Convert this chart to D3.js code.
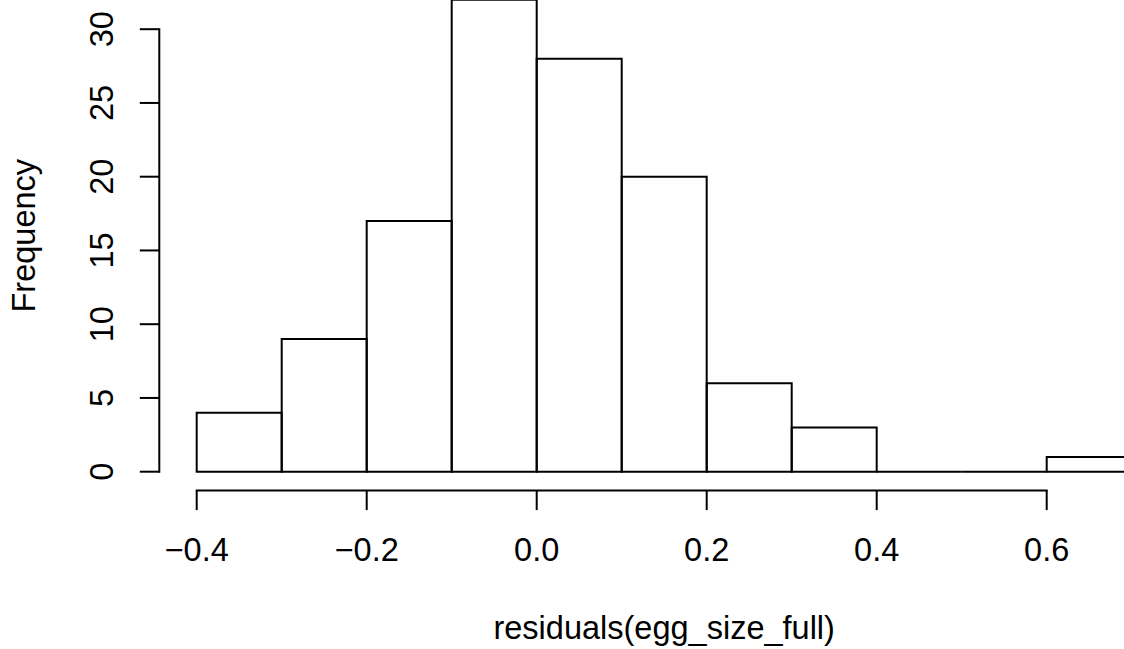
<!DOCTYPE html>
<html>
<head>
<meta charset="utf-8">
<script src="https://cdn.jsdelivr.net/npm/d3@7"></script>
<style>
  html, body { margin: 0; padding: 0; background: #fff; }
  svg { display: block; }
  text { font-family: "Liberation Sans", Arial, Helvetica, sans-serif; fill: #000; }
</style>
</head>
<body>
<svg id="chart" width="1124" height="649"></svg>
<script>
// Histogram of model residuals: bin edges and counts per bin
const breaks = [-0.4, -0.3, -0.2, -0.1, 0.0, 0.1, 0.2, 0.3, 0.4, 0.5, 0.6, 0.7];
const counts = [4, 9, 17, 32, 28, 20, 6, 3, 0, 0, 1];
const xTicks = [-0.4, -0.2, 0.0, 0.2, 0.4, 0.6];
const yTicks = [0, 5, 10, 15, 20, 25, 30];
const xTitle = "residuals(egg_size_full)";
const yTitle = "Frequency";

(function draw() {
  const fontPx = 32.5;            // base text size
  const lineH = fontPx * 1.2;     // margin line height
  const lw = 2;                   // stroke width

  const xs = d3.scaleLinear().domain([-0.4, 0.6]).range([196.7, 1046.7]);
  const ys = d3.scaleLinear().domain([0, 30]).range([471.7, 29.2]);

  // Plot region edges (4% padding around the data range)
  const xRange = breaks[breaks.length - 1] - breaks[0];
  const yMax = d3.max(counts);
  const plotLeft = xs(breaks[0] - 0.04 * xRange);
  const plotRight = xs(breaks[breaks.length - 1] + 0.04 * xRange);
  const plotBottom = ys(-0.04 * yMax);
  const plotTop = ys(yMax * 1.04);

  const svg = d3.select("#chart");

  // Bars as closed outlines, so empty bins still show as a line on the baseline
  const bins = counts.map((c, i) => ({ x0: breaks[i], x1: breaks[i + 1], n: c }));
  svg.append("g")
    .selectAll("path")
    .data(bins)
    .join("path")
    .attr("d", d => {
      const p = d3.path();
      p.moveTo(xs(d.x0), ys(0));
      p.lineTo(xs(d.x1), ys(0));
      p.lineTo(xs(d.x1), ys(d.n));
      p.lineTo(xs(d.x0), ys(d.n));
      p.closePath();
      return p.toString();
    })
    .attr("fill", "none")
    .attr("stroke", "#000")
    .attr("stroke-width", lw);

  const tick = 0.5 * lineH;

  // X axis along the bottom edge of the plot region
  const gx = svg.append("g").attr("transform", `translate(0,${plotBottom})`);
  gx.append("line")
    .attr("x1", xs(xTicks[0])).attr("x2", xs(xTicks[xTicks.length - 1]))
    .attr("y1", 0).attr("y2", 0)
    .attr("stroke", "#000").attr("stroke-width", lw).attr("stroke-linecap", "square");
  gx.selectAll("line.tk")
    .data(xTicks)
    .join("line")
    .attr("class", "tk")
    .attr("x1", d => xs(d)).attr("x2", d => xs(d))
    .attr("y1", 0).attr("y2", tick)
    .attr("stroke", "#000").attr("stroke-width", lw);
  const fmtX = d => (d < 0 ? "\u2212" : "") + Math.abs(d).toFixed(1);
  gx.selectAll("text")
    .data(xTicks)
    .join("text")
    .attr("x", d => xs(d))
    .attr("y", (1 + 1 - 0.2) * lineH)
    .attr("text-anchor", "middle")
    .attr("font-size", fontPx)
    .text(fmtX);

  // Y axis along the left edge of the plot region
  const gy = svg.append("g").attr("transform", `translate(${plotLeft},0)`);
  gy.append("line")
    .attr("x1", 0).attr("x2", 0)
    .attr("y1", ys(yTicks[0])).attr("y2", ys(yTicks[yTicks.length - 1]))
    .attr("stroke", "#000").attr("stroke-width", lw).attr("stroke-linecap", "square");
  gy.selectAll("line.tk")
    .data(yTicks)
    .join("line")
    .attr("class", "tk")
    .attr("x1", 0).attr("x2", -tick)
    .attr("y1", d => ys(d)).attr("y2", d => ys(d))
    .attr("stroke", "#000").attr("stroke-width", lw);
  gy.selectAll("text")
    .data(yTicks)
    .join("text")
    .attr("transform", d => `translate(${-(1 + 0.2) * lineH},${ys(d)}) rotate(-90)`)
    .attr("text-anchor", "middle")
    .attr("font-size", fontPx)
    .text(d => d);

  // Axis titles
  svg.append("text")
    .attr("x", (plotLeft + plotRight) / 2)
    .attr("y", plotBottom + (3 + 1 - 0.2) * lineH)
    .attr("text-anchor", "middle")
    .attr("font-size", fontPx)
    .text(xTitle);

  svg.append("text")
    .attr("transform", `translate(${plotLeft - (3 + 0.2) * lineH},${(plotTop + plotBottom) / 2}) rotate(-90)`)
    .attr("text-anchor", "middle")
    .attr("font-size", fontPx)
    .text(yTitle);
})();
</script>
</body>
</html>
